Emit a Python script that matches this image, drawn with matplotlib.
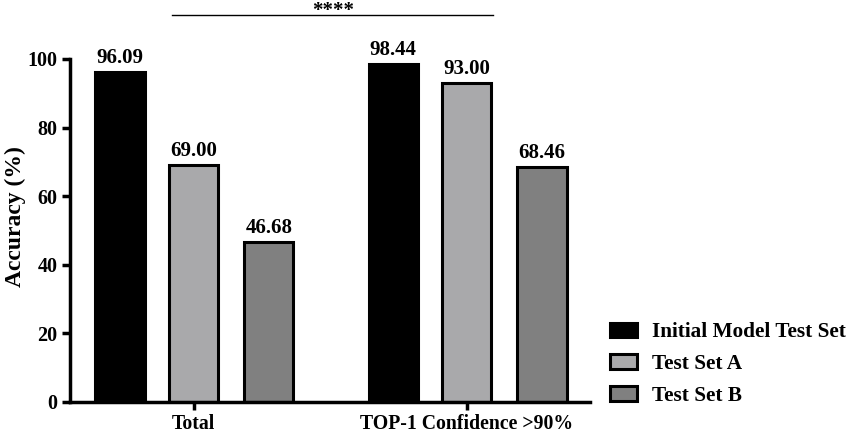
import matplotlib
matplotlib.use('Agg')
import matplotlib.pyplot as plt
import numpy as np

groups = ['Total', 'TOP-1 Confidence >90%']
series = ['Initial Model Test Set', 'Test Set A', 'Test Set B']
initial = [96.09, 98.44]
set_a = [69.00, 93.00]
set_b = [46.68, 68.46]
colors = ['#000000', '#a9a9ab', '#808080']

plt.rcParams['font.family'] = ['Liberation Serif']
plt.rcParams['font.weight'] = 'bold'

fig = plt.figure(figsize=(8.51, 4.43), dpi=100)
ax = fig.add_axes([0.082, 0.0926, 0.611, 0.8905])

x = np.arange(len(groups))
width = 0.18
offsets = [-0.27, 0.0, 0.275]
for vals, off, c, name in zip([initial, set_a, set_b], offsets, colors, series):
    bars = ax.bar(x + off, vals, width, color=c, edgecolor='black', linewidth=2.2, label=name)
    for b, v in zip(bars, vals):
        ax.text(b.get_x() + b.get_width() / 2, v + 1.2, f'{v:.2f}',
                ha='center', va='bottom', fontsize=15, fontweight='bold')

ax.set_xlim(-0.454, 1.45)
ax.set_ylim(0, 115)
ax.spines['left'].set_bounds(0, 100)
ax.spines['top'].set_visible(False)
ax.spines['right'].set_visible(False)
for s in ['left', 'bottom']:
    ax.spines[s].set_linewidth(2.5)
ax.set_yticks([0, 20, 40, 60, 80, 100])
ax.set_xticks(x)
ax.set_xticklabels(groups)
ax.tick_params(axis='both', width=2.5, length=6, labelsize=14.5, pad=3)
ax.tick_params(axis='x', labelsize=14.2)
ax.set_ylabel('Accuracy (%)', fontsize=17, fontweight='bold')
ax.yaxis.set_label_coords(-0.085, 0.469)

# significance bar
ax.plot([-0.08, 1.095], [112.8, 112.8], color='black', lw=1, clip_on=False)
ax.text(0.51, 112.6, '****', ha='center', va='baseline', fontsize=15, fontweight='bold')

fig.legend(loc='center left', bbox_to_anchor=(0.702, 0.178), frameon=False,
           prop={'size': 15.3, 'weight': 'bold'}, handlelength=1.25, handleheight=0.7,
           labelspacing=0.55, handletextpad=0.72, borderaxespad=0.2)

fig.savefig('out.png', dpi=100)
